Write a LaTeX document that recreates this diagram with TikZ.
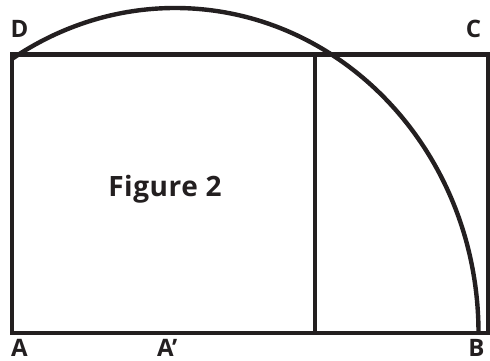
\documentclass[tikz,border=0pt]{standalone}
\usepackage{fontspec}
\setmainfont{Open Sans}
\newfontfamily\titlefont[LetterSpace=2]{Open Sans}
\usetikzlibrary{calc}
\definecolor{figInk}{HTML}{231F20}

\begin{document}
\begin{tikzpicture}[
  x=1pt, y=1pt,
  edge/.style={line width=4.4pt, draw=figInk},
  divider/.style={line width=4pt, draw=figInk},
  corner/.style={font=\fontsize{24}{24}\selectfont\bfseries, text=figInk, inner sep=0pt, anchor=base},
  title/.style={font=\titlefont\fontsize{28}{28}\selectfont\bfseries, text=figInk, inner sep=0pt, anchor=base}
]
  \useasboundingbox (0,0) rectangle (490,360);

  % Rectangle ABCD and the square cut from it
  \coordinate (A) at (12,27);
  \coordinate (B) at (488,27);
  \coordinate (C) at (488,305.5);
  \coordinate (D) at (12,305.5);
  \coordinate (sqBottom) at (315,27);
  \coordinate (sqTop) at (315,305.5);
  \coordinate (arcEnd) at (478.5,27);

  \draw[edge] (A) -- (B) -- (C) -- (D) -- cycle;
  \draw[divider] (sqBottom) -- (sqTop);

  % Arc round A'
  \draw[edge] (arcEnd) arc[start angle=0, end angle=122.6, x radius=303.5, y radius=325];

  \node[corner] (labD) at (19.5,323) {D};
  \node[corner] (labC) at (473.5,323) {C};
  \node[corner] (labA) at (19.5,4) {A};
  \node[corner, anchor=base west] (labAp) at (157,4) {A’};
  \node[corner] (labB) at (476.5,4) {B};

  \node[title] (figTitle) at (165,164) {Figure 2};
\end{tikzpicture}
\end{document}
